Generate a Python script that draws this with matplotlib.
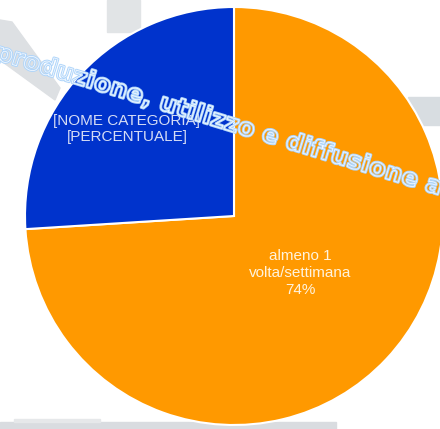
import matplotlib
matplotlib.use("Agg")
import matplotlib.pyplot as plt
import matplotlib.patheffects as pe
from matplotlib.patches import Rectangle, Polygon

# dati del grafico
categorie = ["almeno 1\nvolta/settimana", "[NOME CATEGORIA]"]
percentuali = [74, 26]
etichette = ["almeno 1\nvolta/settimana\n74%", "[NOME CATEGORIA]\n[PERCENTUALE]"]
colori = ["#FF9900", "#0033CC"]
colori_testo = ["#FFF3DD", "#D5DCF5"]
pos_etichette = [(0.316, -0.273), (-0.512, 0.416)]
filigrana = "produzione, utilizzo e diffusione a"

plt.rcParams['font.family'] = ['Liberation Sans', 'DejaVu Sans']

W, H = 440, 429
fig = plt.figure(figsize=(W / 100, H / 100), dpi=100)
fig.patch.set_facecolor("white")


def px(x, y):
    # pixel (dall'alto) -> coordinate figura
    return (x / W, 1 - y / H)


# residui grigi della filigrana
for (x, y, w, h, c) in [(0, 422, 336, 7, "#D9DCE0"), (14, 419, 86, 3, "#E6E8EA"),
                        (107, 0, 33, 32, "#E1E4E6"), (408, 97, 32, 28, "#D8DDE1")]:
    fig.patches.append(Rectangle(px(x, y + h), w / W, h / H, transform=fig.transFigure,
                                 color=c, zorder=-2))
fig.patches.append(Polygon([px(0, 20), px(12, 22), px(60, 88), px(55, 100), px(0, 60)],
                           closed=True, transform=fig.transFigure, color="#DDE0E3", zorder=-2))

ax = fig.add_axes([25 / W, 4 / H, 418 / W, 418 / H])
ax.pie(percentuali, colors=colori, startangle=90, counterclock=False,
       wedgeprops=dict(edgecolor="white", linewidth=1.5), radius=1.0)
ax.set_xlim(-1, 1)
ax.set_ylim(-1, 1)
ax.set_aspect("equal")
ax.axis("off")

for (x, y), testo, col in zip(pos_etichette, etichette, colori_testo):
    ax.text(x, y, testo, ha="center", va="center", fontsize=11, color=col,
            linespacing=1.25)

fig.text(*px(218, 120), filigrana, rotation=-17, rotation_mode="anchor",
         ha="center", va="center", fontsize=17.5, fontweight="bold",
         family="DejaVu Sans", color="none",
         path_effects=[pe.Stroke(linewidth=2.0, foreground="#AFD5FA"),
                       pe.Stroke(linewidth=0.6, foreground="#F2F8FF")])

fig.savefig("out.png", dpi=100)
